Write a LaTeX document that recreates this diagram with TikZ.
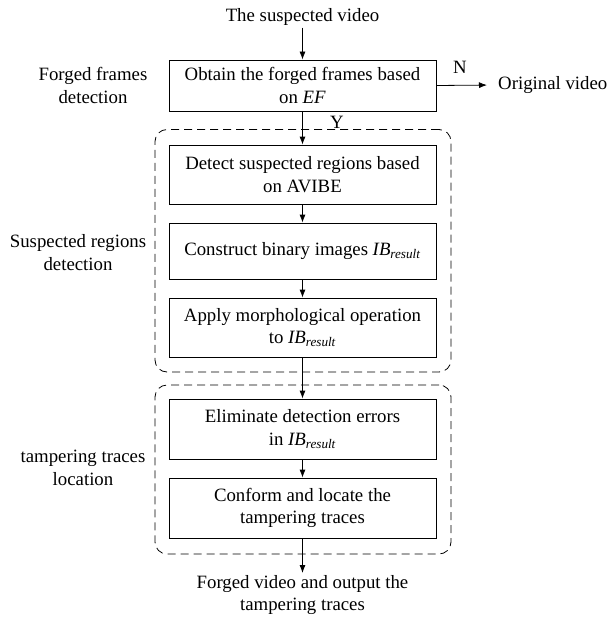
\documentclass[tikz,border=0pt]{standalone}
\usepackage{fontspec}
\setmainfont{Liberation Serif}
\usetikzlibrary{arrows.meta}
\newcommand{\IBres}{\textit{IB}\textsubscript{\textit{result}}}
\begin{document}
\begin{tikzpicture}[x=1pt,y=-1pt,
  every node/.style={font=\fontsize{18.8}{22.5}\selectfont, align=center, inner sep=2pt},
  proc/.style={draw, line width=0.8pt, minimum width=267pt, inner sep=0pt},
  group/.style={draw, line width=0.8pt, dash pattern=on 8pt off 5pt, rounded corners=12pt, minimum width=296pt},
  arr/.style={-{Latex[length=8pt,width=6pt]}, line width=0.8pt}]
\useasboundingbox (0,0) rectangle (609,618);
\node[group, minimum height=242.5pt] (g1) at (303,250.75) {};
\node[group, minimum height=169pt] (g2) at (303,469.5) {};
\node (title) at (302.5,17) {The suspected video};
\node[proc, minimum height=51pt] (b1) at (302.5,85.5) {Obtain the forged frames based\\on \textit{EF}};
\node[proc, minimum height=59pt] (b2) at (302.5,174.5) {Detect suspected regions based\\on AVIBE};
\node[proc, minimum height=56pt] (b3) at (302.5,251) {Construct binary images \IBres};
\node[proc, minimum height=59pt] (b4) at (302.5,327.5) {Apply morphological operation\\to \IBres};
\node[proc, minimum height=60pt] (b5) at (302.5,429) {Eliminate detection errors\\in \IBres};
\node[proc, minimum height=60pt] (b6) at (302.5,508) {Conform and locate the\\tampering traces};
\node[anchor=north] (out) at (302.5,573) {Forged video and output the\\tampering traces};
\node[anchor=west] (orig) at (496,85) {Original video};
\node (n) at (460,67) {N};
\node (y) at (337,122) {Y};
\node (l1) at (93,85.5) {Forged frames\\detection};
\node (l2) at (78,252.5) {Suspected regions\\detection};
\node (l3) at (83,468) {tampering traces\\location};
\draw[arr] (title) -- (b1);
\draw[arr, shorten >=9pt] (b1.east) -- (orig.west);
\draw[arr] (b1) -- (b2);
\draw[arr] (b2) -- (b3);
\draw[arr] (b3) -- (b4);
\draw[arr] (b4) -- (b5);
\draw[arr] (b5) -- (b6);
\draw[arr] (b6) -- (out);
\end{tikzpicture}
\end{document}
